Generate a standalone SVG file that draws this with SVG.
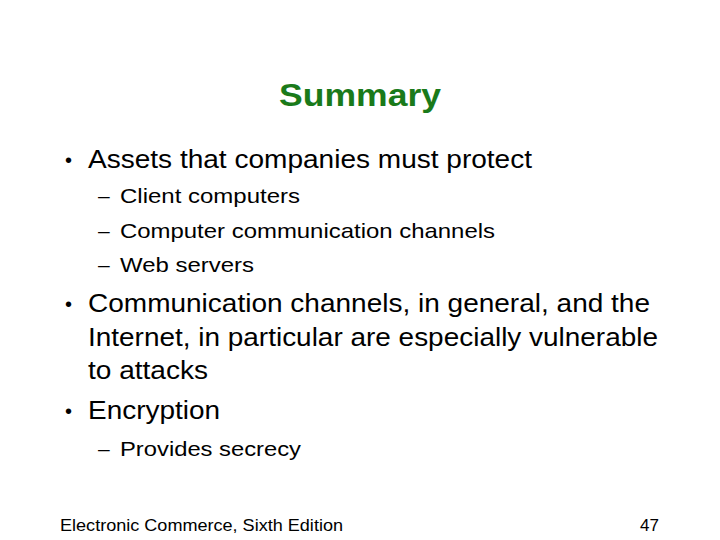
<svg xmlns="http://www.w3.org/2000/svg" width="720" height="540" viewBox="0 0 720 540">
<style>
text{font-family:"Liberation Sans",Arial,sans-serif;fill:#000}
.t{font-size:32px;font-weight:bold;fill:#1a7a1a}
.b{font-size:25px}
.s{font-size:21px}
.f{font-size:17px}
.d{font-size:20px}
</style>
<rect width="720" height="540" fill="#fff"/>
<text class="t" x="279" y="106" textLength="162" lengthAdjust="spacingAndGlyphs">Summary</text>
<text class="d" x="65" y="167">•</text><text class="b" x="88" y="168" textLength="444" lengthAdjust="spacingAndGlyphs">Assets that companies must protect</text>
<text class="s" x="98" y="203">–</text><text class="s" x="120" y="203" textLength="180" lengthAdjust="spacingAndGlyphs">Client computers</text>
<text class="s" x="98" y="238">–</text><text class="s" x="120" y="238" textLength="375" lengthAdjust="spacingAndGlyphs">Computer communication channels</text>
<text class="s" x="98" y="272">–</text><text class="s" x="120" y="272" textLength="134" lengthAdjust="spacingAndGlyphs">Web servers</text>
<text class="d" x="65" y="311">•</text><text class="b" x="88" y="312" textLength="562" lengthAdjust="spacingAndGlyphs">Communication channels, in general, and the</text>
<text class="b" x="88" y="346" textLength="570" lengthAdjust="spacingAndGlyphs">Internet, in particular are especially vulnerable</text>
<text class="b" x="88" y="379" textLength="120" lengthAdjust="spacingAndGlyphs">to attacks</text>
<text class="d" x="65" y="418">•</text><text class="b" x="88" y="419" textLength="132" lengthAdjust="spacingAndGlyphs">Encryption</text>
<text class="s" x="98" y="456">–</text><text class="s" x="120" y="456" textLength="181" lengthAdjust="spacingAndGlyphs">Provides secrecy</text>
<text class="f" x="60" y="531" textLength="283" lengthAdjust="spacingAndGlyphs">Electronic Commerce, Sixth Edition</text>
<text class="f" x="659" y="531" text-anchor="end">47</text>
</svg>
